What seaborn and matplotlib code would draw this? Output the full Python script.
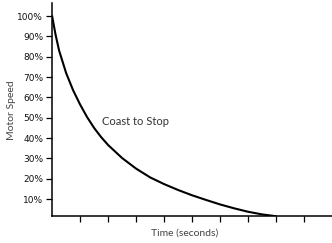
import matplotlib
matplotlib.use("Agg")
from matplotlib import pyplot as plt
from matplotlib.ticker import FuncFormatter
import pandas as pd
import seaborn as sns

# values
time_s = [0, 0.12, 0.25, 0.5, 0.75, 1.0, 1.25, 1.5, 1.75, 2.0, 2.5, 3.0, 3.5,
          4.0, 4.5, 5.0, 5.5, 6.0, 6.5, 7.0, 7.5, 8.0]
speed_pct = [100, 91, 83, 72, 63.5, 56.5, 50.3, 45, 40.5, 36.6, 30.2, 25, 20.7,
             17.4, 14.5, 11.9, 9.6, 7.4, 5.5, 3.8, 2.5, 1.6]
y_ticks = [10, 20, 30, 40, 50, 60, 70, 80, 90, 100]
x_ticks = [1, 2, 3, 4, 5, 6, 7, 8, 9]

df = pd.DataFrame({"t": time_s, "speed": speed_pct})

sns.set_style("ticks")
plt.rcParams['font.family'] = ['DejaVu Sans']

fig = plt.figure(figsize=(3.32, 2.43), dpi=100)
ax = fig.add_axes([0.157, 0.111, 0.843, 0.875])

sns.lineplot(data=df, x="t", y="speed", ax=ax, color="black", linewidth=1.5)

ax.set_xlim(0, 10)
ax.set_ylim(1.7, 106.2)
ax.set_yticks(y_ticks)
ax.yaxis.set_major_formatter(FuncFormatter(lambda v, p: f"{int(v)}%"))
ax.set_xticks(x_ticks)
ax.set_xticklabels([])
ax.tick_params(axis="both", direction="out", length=4.5, width=0.9, color="black")
ax.tick_params(axis="y", labelsize=6.5, labelcolor="#111111", pad=2)

sns.despine(ax=ax)
for s in ["left", "bottom"]:
    ax.spines[s].set_color("black")
    ax.spines[s].set_linewidth(1.1)

ax.set_ylabel("Motor Speed", family="Lato", fontsize=7.5, color="#444444", labelpad=1)
ax.set_xlabel("Time (seconds)", family="Lato", fontsize=7.5, color="#444444")
ax.xaxis.set_label_coords(0.475, -0.058)

ax.text(1.78, 48.4, "Coast to Stop", family="Lato", fontsize=8,
        color="#333333", ha="left", va="center")

fig.savefig("out.png", dpi=100)
